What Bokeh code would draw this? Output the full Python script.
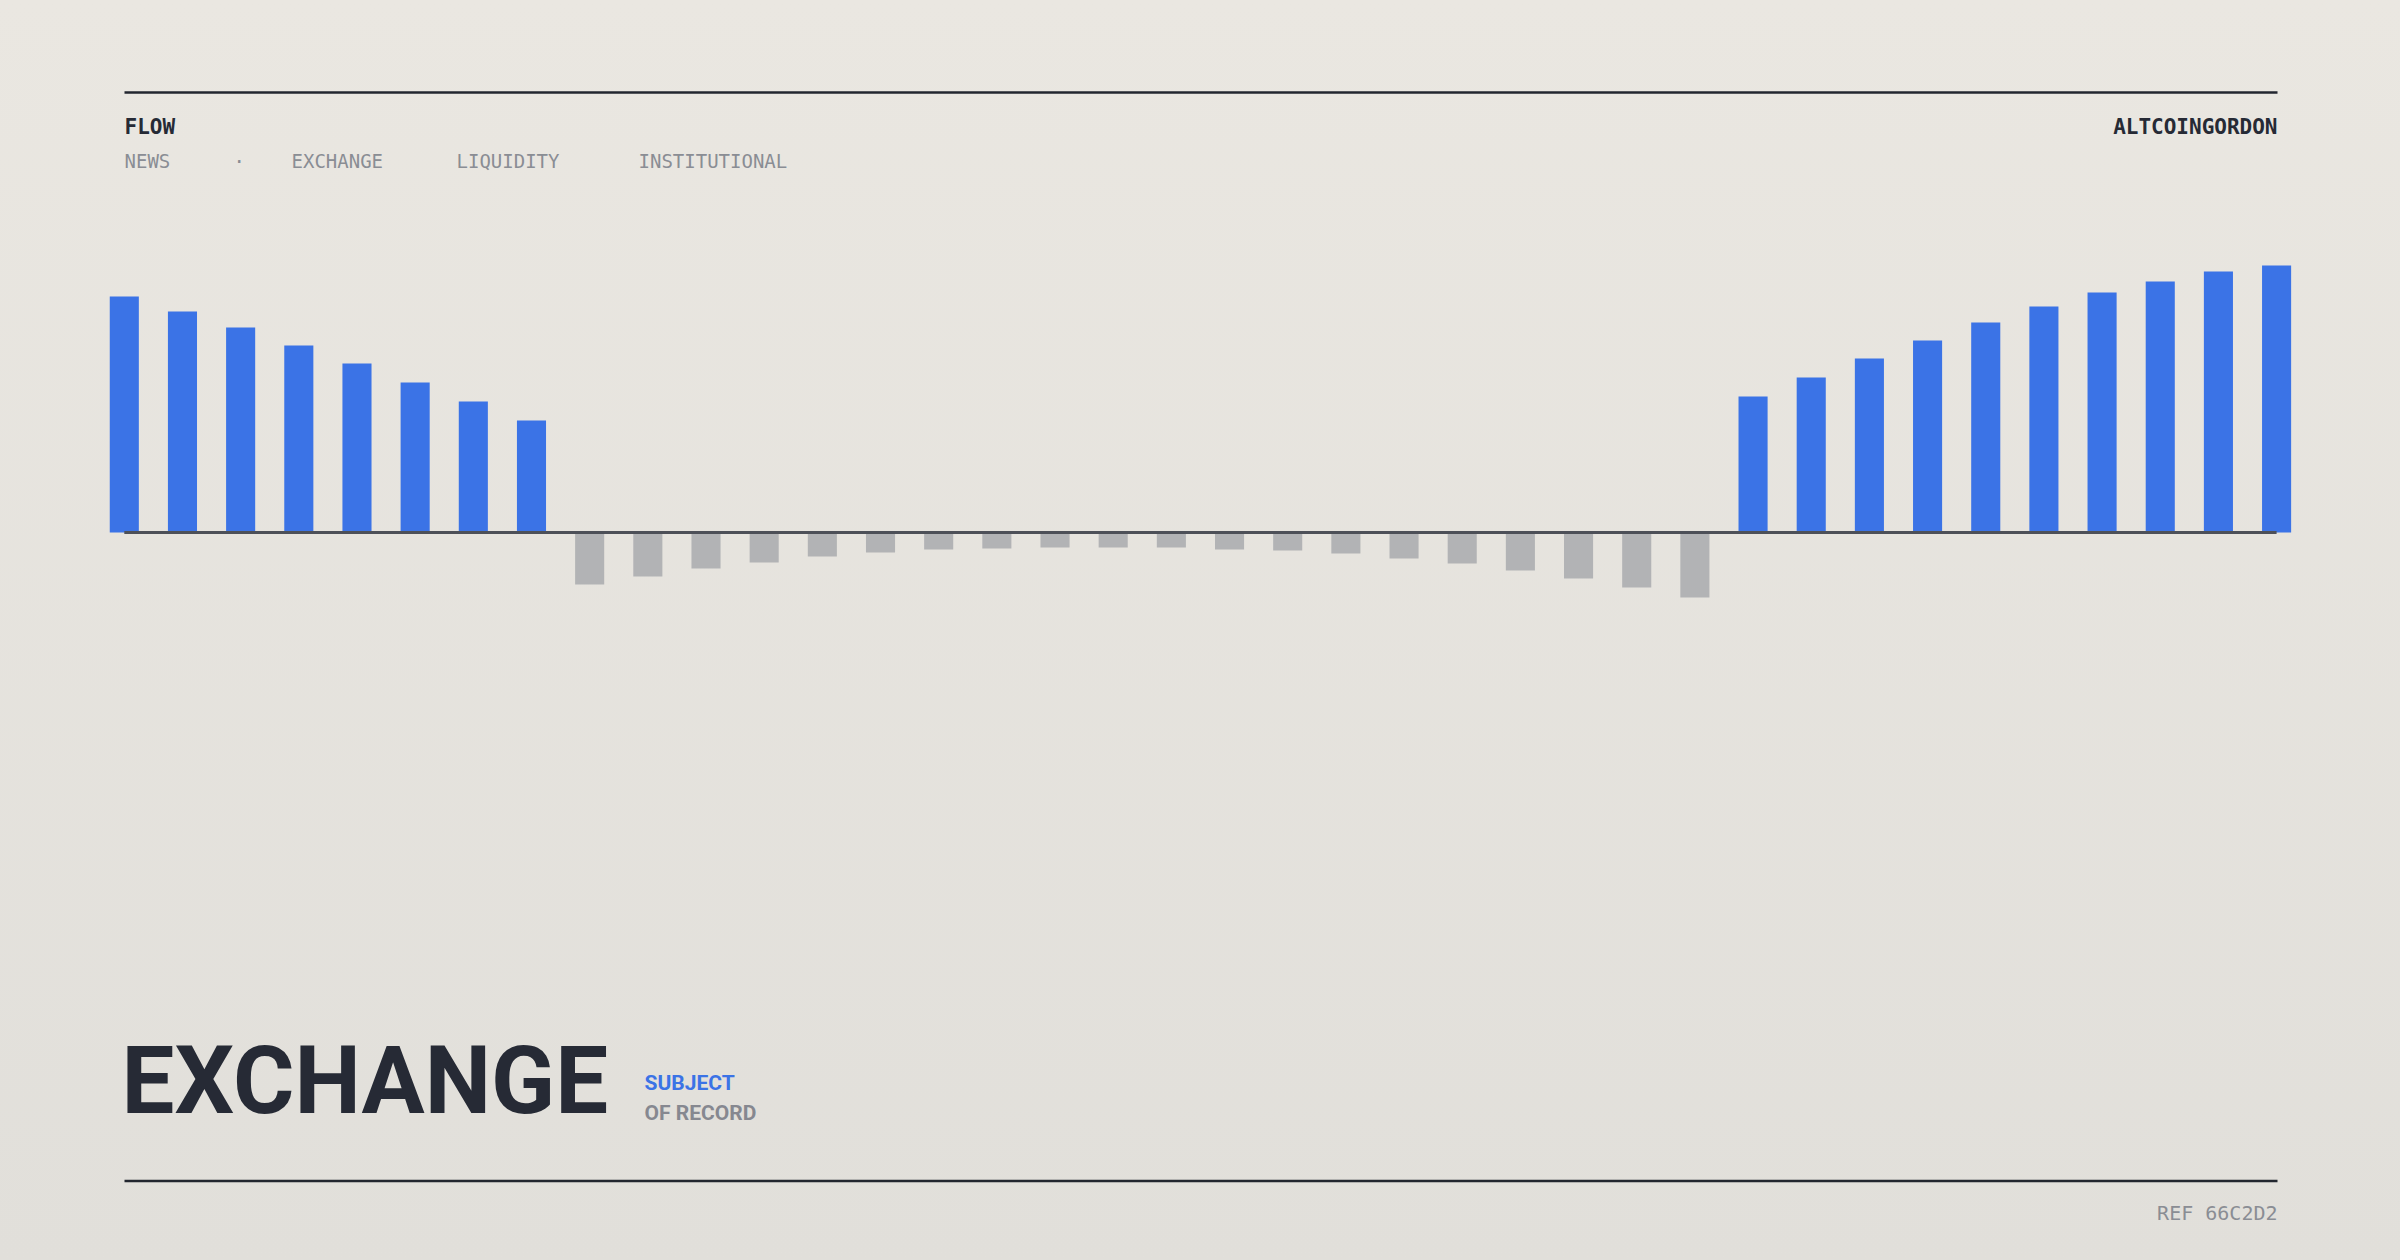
from bokeh.plotting import figure
from bokeh.models import Range1d, Label, ColumnDataSource
from bokeh.core.properties import value
from bokeh.embed import file_html
from bokeh.resources import INLINE

# ---------------- data ----------------
left_inflow = [236, 221, 205, 187, 169, 150, 131, 112]
mid_outflow = [-52, -44, -36, -30, -24, -20, -17, -16, -15, -15,
               -15, -17, -18, -21, -26, -31, -38, -46, -55, -65]
right_inflow = [136, 155, 174, 192, 210, 226, 240, 251, 261, 267]
flow = left_inflow + mid_outflow + right_inflow
idx = list(range(len(flow)))

kicker = "FLOW"
brand = "ALTCOINGORDON"
nav_items = ["NEWS", "·", "EXCHANGE", "LIQUIDITY", "INSTITUTIONAL"]
title = "EXCHANGE"
sub1 = "SUBJECT"
sub2 = "OF RECORD"
ref = "REF 66C2D2"

# ---------------- style ----------------
BLUE = "#3b73e6"
GRAY = "#b2b3b5"
INK = "#262a35"
MUTED = "#8a8d94"
MONO = "DejaVu Sans Mono"
SANS = "Roboto"

W, H = 2384, 1244
OFF = 0  # the page template sets body margin 0
step = 58.17
c0 = 123.8
x_start = (OFF - c0) / step
x_end = (OFF + W - c0) / step
zero_page = 532
y_top = zero_page - OFF
y_bot = -(H - y_top)

p = figure(width=W, height=H, x_range=Range1d(x_start, x_end),
           y_range=Range1d(y_bot, y_top), output_backend="svg",
           toolbar_location=None, min_border=0, x_axis_type=None,
           y_axis_type=None, outline_line_color=None)
p.background_fill_color = None
p.border_fill_color = None
p.grid.visible = False
p.extra_x_ranges = {"px": Range1d(OFF, OFF + W)}
p.extra_y_ranges = {"px": Range1d(OFF + H, OFF)}

colors = [BLUE if v > 0 else GRAY for v in flow]
src = ColumnDataSource(dict(x=idx, top=flow, color=colors))
p.vbar(x="x", top="top", bottom=0, width=0.5, fill_color="color",
       line_color=None, source=src)

# baseline from first to last bar centre
p.line(x=[idx[0], idx[-1]], y=[0, 0], line_color="#4d5058", line_width=3)

# rules
p.segment(x0=[124, 124], x1=[2277, 2277], y0=[92, 1180.5], y1=[92, 1180.5],
          line_color="#22262f", line_width=2.5,
          x_range_name="px", y_range_name="px")


def lab(x, y, text, size, color, font=MONO, bold=False, align="left"):
    p.add_layout(Label(x=x, y=y, text=text, x_range_name="px",
                       y_range_name="px", text_font=font,
                       text_font_size=f"{size}px", text_color=color,
                       text_font_style="bold" if bold else "normal",
                       text_align=align, text_baseline="middle"))


lab(124, 126.5, kicker, 21, INK, bold=True)
lab(2277, 126.5, brand, 21, INK, bold=True, align="right")
nav_x = [124, 233, 291, 456, 638]
for xx, t in zip(nav_x, nav_items):
    lab(xx, 160, t, 19, MUTED)

lab(121, 1080, title, 94, INK, font=SANS, bold=True)
lab(644, 1082.5, sub1, 21, BLUE, font=SANS, bold=True)
lab(644, 1112.5, sub2, 21, "#868890", font=SANS, bold=True)
lab(2277, 1212.5, ref, 20, MUTED, align="right")

html = file_html(p, INLINE)
style = ("<style>html{background:linear-gradient(180deg,#eae7e1 0%,#e1dfda 100%);"
         "min-height:100%;}body{background:transparent;}</style></head>")
html = html.replace("</head>", style, 1)
open("out.html", "w").write(html)
